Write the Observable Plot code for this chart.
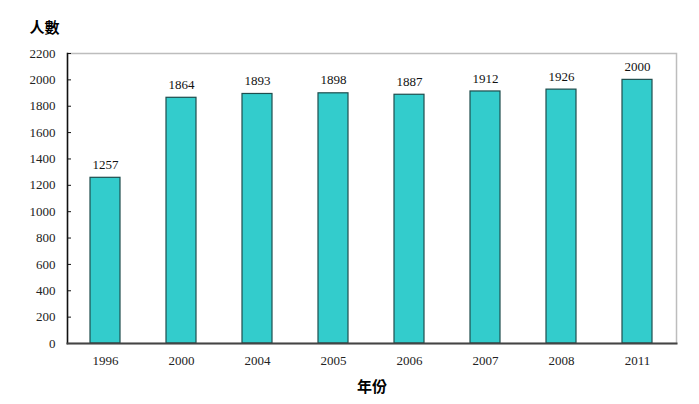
<!DOCTYPE html>
<html>
<head>
<meta charset="utf-8">
<script src="https://cdn.jsdelivr.net/npm/d3@7"></script>
<script src="https://cdn.jsdelivr.net/npm/@observablehq/plot@0.6"></script>
<style>
body { margin: 0; background: #fff; }
</style>
</head>
<body>
<div id="chart"></div>
<script>
const years = ["1996", "2000", "2004", "2005", "2006", "2007", "2008", "2011"];
const values = [1257, 1864, 1893, 1898, 1887, 1912, 1926, 2000];
const yTicks = [0, 200, 400, 600, 800, 1000, 1200, 1400, 1600, 1800, 2000, 2200];
const yTitle = "人數";
const xTitle = "年份";

const data = years.map((y, i) => ({year: y, value: values[i]}));
const serif = "'Liberation Serif', 'Times New Roman', serif";
const cjk = "'Noto Sans CJK TC', 'Noto Sans CJK SC', sans-serif";

const chart = Plot.plot({
  width: 699,
  height: 404,
  marginLeft: 67,
  marginRight: 23,
  marginTop: 53,
  marginBottom: 61,
  style: {fontFamily: serif, fontSize: "13px", color: "#222", background: "#fff"},
  x: {type: "band", domain: years, paddingInner: 0.6, paddingOuter: 0.3, label: null},
  y: {domain: [0, 2200], label: null},
  marks: [
    Plot.frame({stroke: "#bdbdbd", strokeWidth: 1.5}),
    Plot.barY(data, {x: "year", y: "value", fill: "#33CCCC", stroke: "#1e4d4d", strokeWidth: 1.2}),
    Plot.text(data, {x: "year", y: "value", text: d => String(d.value), dy: -13, fill: "#111", fontSize: 13}),
    Plot.axisY({ticks: yTicks, tickSize: -4, text: null, stroke: "#111"}),
    Plot.axisY({ticks: yTicks, tickSize: 0, tickPadding: 12, tickFormat: d => String(d), fontSize: 13, fill: "#222"}),
    Plot.axisX({tickSize: 0, tickPadding: 12, fontSize: 13, fill: "#222"}),
    Plot.frame({anchor: "left", stroke: "#111", strokeWidth: 1.5}),
    Plot.frame({anchor: "bottom", stroke: "#444", strokeWidth: 2}),
    Plot.text([yTitle], {frameAnchor: "top-left", text: d => d, dx: -38, dy: -31, textAnchor: "start", fontFamily: cjk, fontWeight: "bold", fontSize: 15, fill: "#000"}),
    Plot.text([xTitle], {frameAnchor: "bottom", text: d => d, dy: 48, fontFamily: cjk, fontWeight: "bold", fontSize: 15, fill: "#000"})
  ]
});
document.getElementById("chart").appendChild(chart);
</script>
</body>
</html>
